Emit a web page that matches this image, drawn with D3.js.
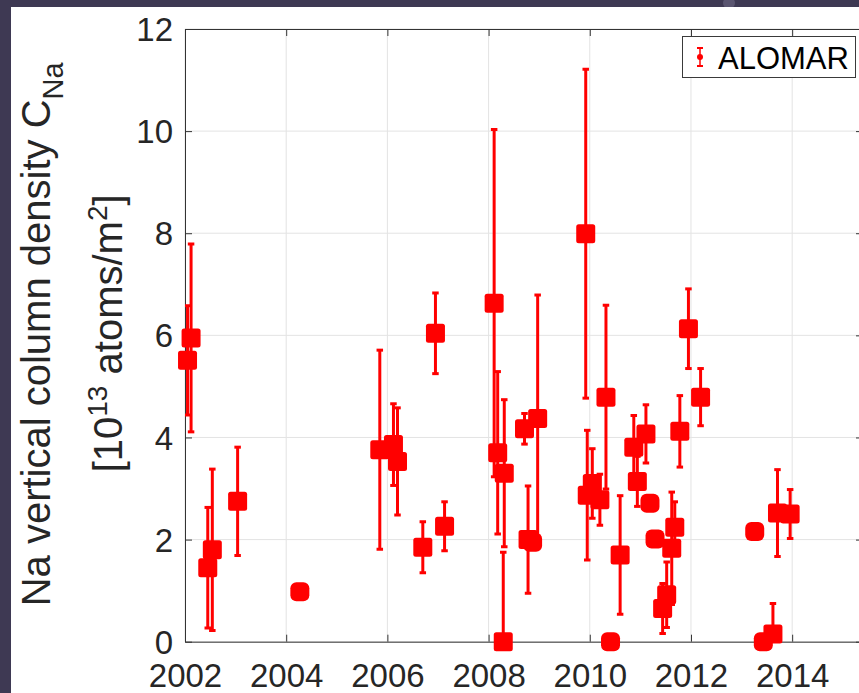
<!DOCTYPE html>
<html>
<head>
<meta charset="utf-8">
<script src="https://cdn.jsdelivr.net/npm/d3@7"></script>
<style>
  html, body { margin: 0; padding: 0; background: #3e3953; }
  svg { display: block; }
  text { font-family: "Liberation Sans", Arial, Helvetica, sans-serif; }
</style>
</head>
<body>
<div id="chart"></div>
<script>
// ALOMAR Na column density
const years = [
  2002.05, 2002.12, 2002.45, 2002.54, 2003.04, 2004.27,
  2005.85, 2006.12, 2006.20, 2006.70, 2006.95, 2007.13,
  2008.11, 2008.18, 2008.31, 2008.29, 2008.71, 2008.97, 2008.78, 2008.87,
  2009.92, 2009.95, 2010.05, 2010.20, 2010.32, 2010.41, 2010.60,
  2010.87, 2010.94, 2011.11, 2011.19, 2011.29, 2011.44, 2011.52,
  2011.62, 2011.68, 2011.78, 2011.95, 2012.19,
  2013.26, 2013.43, 2013.62, 2013.71, 2013.96
];
const values = [
  5.51, 5.95, 1.45, 1.80, 2.75, 0.98,
  3.76, 3.86, 3.53, 1.85, 6.04, 2.26,
  6.63, 3.70, 3.30, 0.00, 4.17, 4.37, 2.00, 1.95,
  7.99, 2.87, 3.10, 2.78, 4.79, 0.00, 1.70,
  3.81, 3.14, 4.07, 2.71, 2.01, 0.65, 0.92,
  1.83, 2.24, 4.12, 6.13, 4.79,
  2.16, 0.00, 0.15, 2.52, 2.50
];
const errors = [
  1.07, 1.84, 1.18, 1.58, 1.06, 0,
  1.95, 0.80, 1.05, 0.50, 0.79, 0.48,
  3.40, 1.59, 1.44, 1.75, 0.30, 2.42, 1.05, 0,
  3.22, 1.27, 0.68, 0.50, 1.80, 0, 1.16,
  0.62, 0.49, 0.57, 0, 0, 0.49, 0.64,
  1.10, 0.50, 0.70, 0.78, 0.56,
  0, 0, 0.60, 0.85, 0.48
];
const xTicks = [2002, 2004, 2006, 2008, 2010, 2012, 2014];
const yTicks = [0, 2, 4, 6, 8, 10, 12];
const seriesName = "ALOMAR";

const W = 859, H = 693;
const red = "#ff0000";
const axisColor = "#333333";

const svg = d3.select("#chart").append("svg")
  .attr("width", W).attr("height", H);

// window chrome behind the figure
svg.append("rect").attr("width", W).attr("height", H).attr("fill", "#3e3953");
svg.append("circle").attr("cx", 729).attr("cy", 3).attr("r", 6).attr("fill", "#5a5570");
svg.append("rect").attr("x", 11).attr("y", 7).attr("width", W - 11).attr("height", H - 7).attr("fill", "#ffffff");

const x = d3.scaleLinear().domain([2002, 2015.4]).range([185, 863]);
const y = d3.scaleLinear().domain([0, 12]).range([641.7, 29]);
const [x0, x1] = x.range();
const [y0, y1] = y.range();

svg.append("defs").append("clipPath").attr("id", "plot-clip")
  .append("rect").attr("x", x0).attr("y", y1).attr("width", x1 - x0).attr("height", y0 - y1);

// grid
const grid = svg.append("g").attr("stroke", "#e3e3e3").attr("stroke-width", 1);
grid.selectAll(".gx").data(xTicks).join("line")
  .attr("x1", d => x(d)).attr("x2", d => x(d)).attr("y1", y1).attr("y2", y0);
grid.selectAll(".gy").data(yTicks).join("line")
  .attr("x1", x0).attr("x2", x1).attr("y1", d => y(d)).attr("y2", d => y(d));

// axes (ticks inward, box on all sides)
function styleAxis(g) {
  g.selectAll(".domain").attr("stroke", axisColor);
  g.selectAll(".tick line").attr("stroke", axisColor);
  g.selectAll(".tick text").attr("fill", "#262626").attr("font-size", 33)
    .attr("font-family", "\"Liberation Sans\", Arial, Helvetica, sans-serif");
}
svg.append("g").attr("transform", `translate(0,${y0})`)
  .call(d3.axisBottom(x).tickValues(xTicks).tickFormat(d3.format("d"))
    .tickSizeInner(-7).tickSizeOuter(0).tickPadding(22))
  .call(styleAxis)
  .call(g => g.selectAll(".tick text").attr("dy", "0.71em"));
svg.append("g").attr("transform", `translate(0,${y1})`)
  .call(d3.axisTop(x).tickValues(xTicks).tickFormat("")
    .tickSizeInner(-7).tickSizeOuter(0))
  .call(styleAxis);
svg.append("g").attr("transform", `translate(${x0},0)`)
  .call(d3.axisLeft(y).tickValues(yTicks).tickFormat(d3.format("d"))
    .tickSizeInner(-7).tickSizeOuter(0).tickPadding(12))
  .call(styleAxis)
  .call(g => g.selectAll(".tick text").attr("dy", "0.35em"));
svg.append("g").attr("transform", `translate(${x1},0)`)
  .call(d3.axisRight(y).tickValues(yTicks).tickFormat("")
    .tickSizeInner(-7).tickSizeOuter(0))
  .call(styleAxis);

// y label
const ylab1 = svg.append("text")
  .attr("transform", `translate(50,${(y0 + y1) / 2 - 1}) rotate(-90)`)
  .attr("text-anchor", "middle").attr("font-size", 40).attr("fill", "#262626");
ylab1.append("tspan").text("Na vertical column density C");
ylab1.append("tspan").attr("font-size", 29).attr("dy", 13).text("Na");

const ylab2 = svg.append("text")
  .attr("transform", `translate(122,${(y0 + y1) / 2 - 2}) rotate(-90)`)
  .attr("text-anchor", "middle").attr("font-size", 40).attr("fill", "#262626");
ylab2.append("tspan").text("[10");
ylab2.append("tspan").attr("font-size", 28).attr("dy", -15).text("13");
ylab2.append("tspan").attr("dy", 15).text(" atoms/m");
ylab2.append("tspan").attr("font-size", 28).attr("dy", -15).text("2");
ylab2.append("tspan").attr("dy", 15).text("]");

// data
const pts = years.map((yr, i) => ({ yr, v: values[i], e: errors[i] }));
const capW = 6.5, msz = 19;

const eb = svg.append("g").attr("clip-path", "url(#plot-clip)")
  .attr("stroke", red).attr("stroke-width", 3);
const withErr = pts.filter(d => d.e > 0);
eb.selectAll(".bar").data(withErr).join("line")
  .attr("x1", d => x(d.yr)).attr("x2", d => x(d.yr))
  .attr("y1", d => y(d.v + d.e)).attr("y2", d => y(d.v - d.e));
eb.selectAll(".capt").data(withErr).join("line")
  .attr("x1", d => x(d.yr) - capW / 2).attr("x2", d => x(d.yr) + capW / 2)
  .attr("y1", d => y(d.v + d.e)).attr("y2", d => y(d.v + d.e));
eb.selectAll(".capb").data(withErr).join("line")
  .attr("x1", d => x(d.yr) - capW / 2).attr("x2", d => x(d.yr) + capW / 2)
  .attr("y1", d => y(d.v - d.e)).attr("y2", d => y(d.v - d.e));

svg.append("g").selectAll("rect").data(pts).join("rect")
  .attr("x", d => x(d.yr) - msz / 2).attr("y", d => y(d.v) - msz / 2)
  .attr("width", msz).attr("height", msz)
  .attr("rx", d => d.e > 0 ? 2.5 : 6)
  .attr("fill", red);

// legend
const lg = svg.append("g");
lg.append("rect").attr("x", 682.5).attr("y", 36.5).attr("width", 173).attr("height", 41)
  .attr("fill", "#ffffff").attr("stroke", "#3a3a3a").attr("stroke-width", 1);
lg.append("line").attr("x1", 700).attr("x2", 700).attr("y1", 48).attr("y2", 66)
  .attr("stroke", red).attr("stroke-width", 1.5);
[48, 66].forEach(cy => lg.append("line").attr("x1", 697).attr("x2", 703)
  .attr("y1", cy).attr("y2", cy).attr("stroke", red).attr("stroke-width", 2));
lg.append("circle").attr("cx", 700).attr("cy", 57).attr("r", 3).attr("fill", red);
lg.append("text").attr("x", 718).attr("y", 69).attr("font-size", 31).attr("fill", "#000000")
  .text(seriesName);
</script>
</body>
</html>
